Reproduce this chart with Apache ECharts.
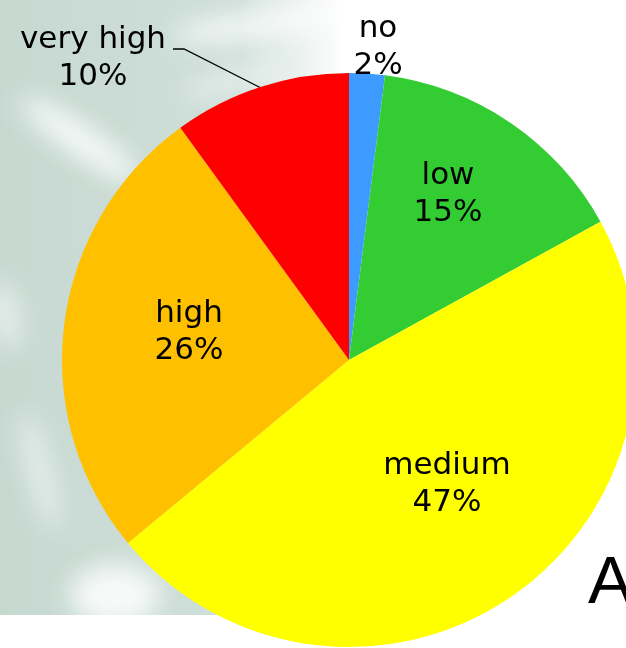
<!DOCTYPE html>
<html>
<head>
<meta charset="utf-8">
<script src="https://cdn.jsdelivr.net/npm/echarts@6/dist/echarts.min.js"></script>
<style>
html,body{margin:0;padding:0;background:#fff;}
#wrap{position:relative;width:626px;height:648px;overflow:hidden;}
#bg{position:absolute;left:0;top:0;width:345px;height:615px;overflow:hidden;
  background:linear-gradient(to right,#c6d9d1 0%,#cfdfd9 70%,#ffffff 100%);}
#bg div{position:absolute;background:#ffffff;border-radius:50%;filter:blur(12px);}
#chart{position:absolute;left:0;top:0;width:626px;height:648px;}
</style>
</head>
<body>
<div id="wrap">
  <div id="bg">
    <div style="left:10px;top:125px;width:140px;height:30px;transform:rotate(35deg);opacity:0.85"></div>
    <div style="left:170px;top:10px;width:190px;height:28px;transform:rotate(-8deg);opacity:0.75"></div>
    <div style="left:180px;top:70px;width:110px;height:20px;transform:rotate(-15deg);opacity:0.5"></div>
    <div style="left:-30px;top:300px;width:70px;height:30px;transform:rotate(80deg);opacity:0.55"></div>
    <div style="left:-20px;top:460px;width:120px;height:22px;transform:rotate(75deg);opacity:0.6"></div>
    <div style="left:70px;top:565px;width:90px;height:60px;opacity:0.85"></div>
  </div>
  <div id="chart"></div>
</div>
<script>
// ---- data ----
const categories = ['no', 'low', 'medium', 'high', 'very high'];
const percentValues = [2, 15, 47, 26, 10];
const sliceColors = ['#3d9bff', '#33cc33', '#ffff00', '#ffc000', '#ff0000'];

// ---- label placement (layout only) ----
const labelAnchors = [[378, 47], [448, 194], [447, 484], [189, 332], [93, 58]];

const chart = echarts.init(document.getElementById('chart'), null, {renderer: 'canvas'});

const option = {
  animation: false,
  backgroundColor: 'transparent',
  graphic: [
    {
      type: 'text', z: 10, silent: true,
      style: {
        x: 588, y: 618, text: 'A',
        font: '67px "Liberation Sans", Arial, sans-serif',
        fill: '#000000', textVerticalAlign: 'bottom', textAlign: 'left'
      }
    }
  ],
  series: [{
    type: 'pie',
    center: [349, 360],
    radius: 287,
    startAngle: 90,
    clockwise: true,
    avoidLabelOverlap: false,
    emphasis: {disabled: true},
    itemStyle: {borderWidth: 0},
    label: {
      show: true,
      formatter: '{b}\n{c}%',
      fontFamily: '"DejaVu Sans", Verdana, sans-serif',
      fontSize: 31,
      lineHeight: 37,
      color: '#000000',
      align: 'center',
      verticalAlign: 'middle'
    },
    labelLine: {show: false, lineStyle: {color: '#000', width: 1.3}},
    labelLayout: function (params) {
      const p = labelAnchors[params.dataIndex];
      const res = {x: p[0], y: p[1], align: 'center', verticalAlign: 'middle'};
      if (params.dataIndex === 4) {
        res.labelLinePoints = [[261, 88], [184, 49], [173, 49]];
      }
      return res;
    },
    data: categories.map(function (name, i) {
      const d = {name: name, value: percentValues[i], itemStyle: {color: sliceColors[i]}};
      if (i === 4) d.labelLine = {show: true, length: 10, length2: 10};
      return d;
    })
  }]
};
chart.setOption(option);
</script>
</body>
</html>
